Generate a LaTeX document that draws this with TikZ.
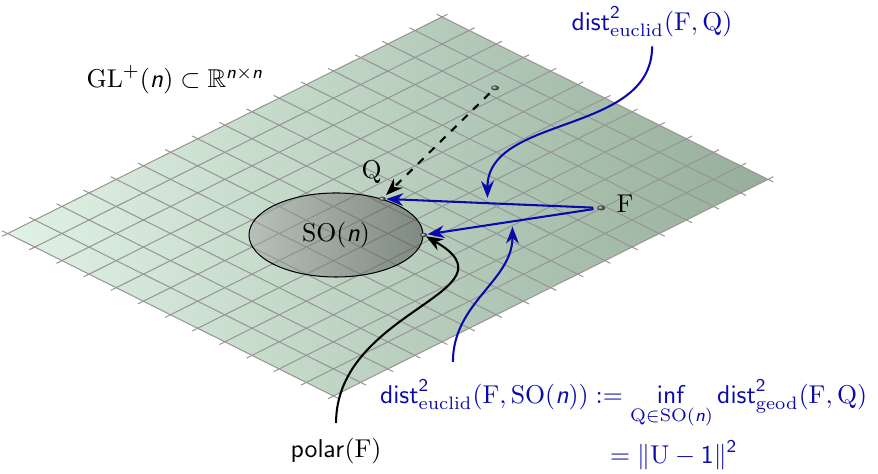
\documentclass[tikz,border=0pt]{standalone}
\usepackage{amsmath,amssymb}
\usepackage{tikz}
\usetikzlibrary{arrows.meta,calc,positioning,shapes.geometric}

\definecolor{distblue}{RGB}{10,10,170}
\definecolor{planeleft}{RGB}{224,242,228}
\definecolor{planeright}{RGB}{150,174,154}
\definecolor{gridgray}{RGB}{150,150,150}
\newcommand{\sn}{\text{\normalfont\sffamily\slshape n}}
\newcommand{\dist}{\mathsf{dist}}

\begin{document}
\begin{tikzpicture}[>=Stealth, thick, scale=1.05,
    gridline/.style={line width=0.4pt, gridgray},
    balldot/.style={ball color=black!60},
    bluearrow/.style={->, distblue, thick}]
    \useasboundingbox (0,0) rectangle (11.414,6.162);

    % 定义坐标
    \coordinate (T) at (5.746,5.941);
    \coordinate (P) at (6.435,5.018);
    \coordinate (F) at (7.813,3.458);

    % 绘制平面与网格
    \begin{scope}[shift={(T)}, x={(0.353cm,-0.176cm)}, y={(-0.353cm,-0.176cm)}]
        \shade[left color=planeleft, right color=planeright] (0,0) -- (12,0) -- (12,16) -- (0,16) -- cycle;
        \foreach \i in {0,...,12}
            \draw[gridline] (\i,-0.2) -- (\i,16.2);
        \foreach \j in {0,...,16}
            \draw[gridline] (-0.2,\j) -- (12.2,\j);
    \end{scope}

    % 绘制 SO(n)
    \node[ellipse, draw, thin, minimum width=2.375cm, minimum height=1.147cm, inner sep=0pt,
          left color=black!35, right color=black!72, fill opacity=0.5, text opacity=1]
          (so) at (4.368,3.107) {$\mathrm{SO}(\sn)$};
    \coordinate (Q) at (so.38);
    \coordinate (R) at (so.east);
    \coordinate (fq) at ($(F)!0.52!(Q)$);
    \coordinate (fr) at ($(F)!0.5!(R)$);

    % 绘制箭头
    \draw[->, dashed, shorten <=3pt, shorten >=2pt] (P) -- (Q);
    \draw[bluearrow, shorten <=3pt, shorten >=1.5pt] (F) -- (Q);
    \draw[bluearrow, shorten <=3pt, shorten >=1.5pt] (F) -- (R);

    % 绘制节点
    \shade[balldot] (P) ellipse (0.052 and 0.033);
    \shade[balldot] (F) ellipse (0.052 and 0.033);
    \shade[balldot] (Q) ellipse (0.045 and 0.028);
    \shade[balldot] (R) ellipse (0.045 and 0.028);

    % 标签
    \node (GL) at (2.275,5.122) {$\mathrm{GL}^{+}(\sn)\subset\mathbb{R}^{\sn\times\sn}$};
    \node (Qlabel) at ($(Q)+(-0.14,0.34)$) {$\mathrm{Q}$};
    \node (Flabel) at ($(F)+(0.31,0.06)$) {$\mathrm{F}$};
    \node[distblue] (dtop) at (8.476,5.876)
        {$\dist^{\mathsf{2}}_{\mathrm{euclid}}(\mathrm{F},\mathrm{Q})$};
    \node (polar) at (4.368,0.30) {$\mathsf{polar}(\mathrm{F})$};
    \node[distblue, anchor=west, inner sep=0pt] (eq) at (4.927,0.62)
        {$\begin{aligned}
            \dist^{\mathsf{2}}_{\mathrm{euclid}}(\mathrm{F},\mathrm{SO}(\sn))
              &\mathrel{:=} \operatorname*{\mathsf{inf}}_{\mathrm{Q}\in\mathrm{SO}(\sn)}
                \dist^{\mathsf{2}}_{\mathrm{geod}}(\mathrm{F},\mathrm{Q})\\[1pt]
              &\mathrel{\phantom{:}=} \|\mathrm{U}-\mathsf{1}\|^{\mathsf{2}}
          \end{aligned}$};

    % 弯曲箭头
    \draw[bluearrow, shorten >=2pt] (dtop.south) to[out=-90, in=90] (fq);
    \draw[bluearrow, shorten >=2pt] ([xshift=0.96cm, yshift=0.22cm]eq.north west) to[out=90, in=-90] (fr);
    \draw[->, shorten >=1pt] ([yshift=2pt]polar.north) to[out=90, in=-30, looseness=1.4] (R);
\end{tikzpicture}
\end{document}
